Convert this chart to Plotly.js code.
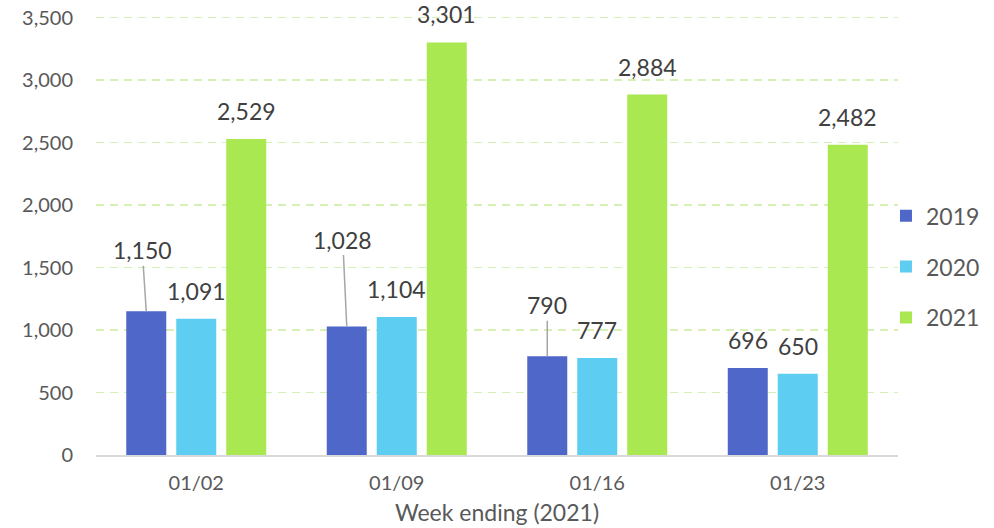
<!DOCTYPE html>
<html><head><meta charset="utf-8">
<script src="https://cdn.plot.ly/plotly-3.0.1.min.js"></script>
<style>html,body{margin:0;padding:0;background:#fff}#c{width:994px;height:528px}</style>
</head><body><div id="c"></div>
<script>
var weeks = ['01/02','01/09','01/16','01/23'];
var seriesNames = ['2019','2020','2021'];
var v2019 = [1150, 1028, 790, 696];
var v2020 = [1091, 1104, 777, 650];
var v2021 = [2529, 3301, 2884, 2482];
var colors = ['#4F67C8','#5DCDF2','#A9E851'];
var allVals = [v2019, v2020, v2021];

var FONT = 'Lato, "Open Sans", sans-serif';
var traces = allVals.map(function(v,i){
  return {type:'bar', name:seriesNames[i], x:weeks, y:v,
    marker:{color:colors[i]}, legendgroup:'g'+i, hoverinfo:'none'};
});

function fmt(n){return n.toLocaleString('en-US');}
var offsets = [-50, 0, 50];
// leader-line offsets for 2019 labels (pixels), null => plain label
var lead2019 = [[-4,-61],[-4,-87],[0,-51],null];
var ann = [];
allVals.forEach(function(v,i){
  v.forEach(function(val,j){
    var a = {x:weeks[j], y:val, xref:'x', yref:'y', text:fmt(val),
      font:{family:FONT, size:23, color:'#404040'}, xshift:offsets[i]};
    if(i===0 && lead2019[j]){
      a.showarrow = true; a.arrowhead = 0; a.arrowwidth = 1.5; a.arrowcolor = '#A6A6A6';
      a.ax = lead2019[j][0]; a.ay = lead2019[j][1]; a.standoff = 0;
    } else {
      a.showarrow = false; a.yanchor = 'middle'; a.yshift = 28;
    }
    ann.push(a);
  });
});

var layout = {
  width:994, height:528,
  margin:{l:96, r:96, t:15, b:73, autoexpand:false},
  paper_bgcolor:'#fff', plot_bgcolor:'#fff',
  barmode:'group', bargap:0.252, bargroupgap:0.2,
  font:{family:FONT, color:'#595959'},
  xaxis:{type:'category', showgrid:false, zeroline:false, showline:true, linecolor:'#D9D9D9', linewidth:1.5,
    tickfont:{family:FONT, size:20, color:'#595959'}, ticks:'', ticklabelstandoff:9,
    title:{text:'Week ending (2021)', font:{family:FONT, size:23, color:'#595959'}, standoff:12}},
  yaxis:{range:[0,3520], dtick:500, tickformat:',d', showgrid:true, gridcolor:'#D5F1B6', griddash:'8px,6px', gridwidth:1.5,
    zeroline:false, showline:false, ticks:'', ticklabelstandoff:22,
    tickfont:{family:FONT, size:20, color:'#595959'}},
  legend:{x:0.985, xanchor:'left', y:0.428, yanchor:'middle', traceorder:'grouped', tracegroupgap:18,
    font:{family:FONT, size:23, color:'#595959'}, bgcolor:'rgba(0,0,0,0)'},
  annotations:ann,
  showlegend:true
};
Plotly.newPlot('c', traces, layout, {displayModeBar:false, staticPlot:true});
</script></body></html>
